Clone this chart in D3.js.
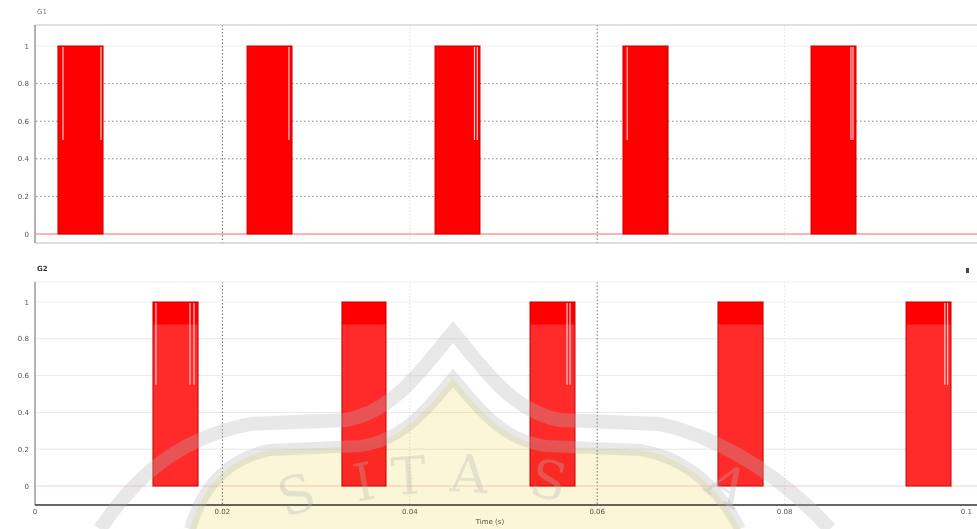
<!DOCTYPE html>
<html lang="en">
<head>
<meta charset="UTF-8">
<title>Gate pulses</title>
<script src="https://d3js.org/d3.v7.min.js"></script>
<style>
	body { margin: 0; background: #fff; }
	text { font-family: "DejaVu Sans", sans-serif; }
</style>
</head>
<body>
<div id="chart"></div>
<script>

	// time axis (s)
	const xTicks = [0, 0.02, 0.04, 0.06, 0.08, 0.1];
	const xTickLabels = ["0", "0.02", "0.04", "0.06", "0.08", "0.1"];
	const yTicks = [0, 0.2, 0.4, 0.6, 0.8, 1];
	const yTickLabels = ["0", "0.2", "0.4", "0.6", "0.8", "1"];

	// pulse windows [start, end] in seconds
	const pulsesTop = [[0.00245, 0.00726], [0.02263, 0.02743], [0.04269, 0.04749], [0.06275, 0.06756], [0.08282, 0.08762]];
	const pulsesBottom = [[0.01259, 0.0174], [0.03276, 0.03746], [0.05283, 0.05763], [0.07289, 0.0777], [0.09296, 0.09776]];

	// narrow off-gaps visible inside the blocks (upper half only)
	const notchesTop = [0.00299, 0.00704, 0.0271, 0.0469, 0.0472, 0.0632, 0.08708, 0.0873];
	const notchesBottom = [0.01291, 0.01654, 0.01697, 0.05678, 0.0571, 0.0971, 0.0974];

	const W = 977, H = 529;

	const svg = d3.select("#chart").append("svg")
		.attr("width", W).attr("height", H);

	svg.append("rect").attr("width", W).attr("height", H).attr("fill", "#fff");

	const defs = svg.append("defs");
	const grad = defs.append("linearGradient").attr("id", "botFill")
		.attr("x1", 0).attr("x2", 0).attr("y1", 0).attr("y2", 1);
	grad.append("stop").attr("offset", "12%").attr("stop-color", "#ff0000");
	grad.append("stop").attr("offset", "12.5%").attr("stop-color", "#ff2a2a");
	grad.append("stop").attr("offset", "100%").attr("stop-color", "#ff2a2a");

	const x = d3.scaleLinear().domain([0, 0.1]).range([35, 972]);

	const panels = [
		{ top: 25, bottom: 243, y: d3.scaleLinear().domain([0, 1]).range([234, 46]),
			pulses: pulsesTop, notches: notchesTop, notchFrom: 0.5, label: "G1",
			fill: "#ff0000", gridH: "dot", zero: "#ff6a6a" },
		{ top: 282, bottom: 505, y: d3.scaleLinear().domain([0, 1]).range([486, 302]),
			pulses: pulsesBottom, notches: notchesBottom, notchFrom: 0.55, label: "G2",
			fill: "url(#botFill)", gridH: "solid", zero: "#f4d0d0" }
	];

	panels.forEach((p, i) => {
		const g = svg.append("g");

		// horizontal grid
		g.selectAll(".hg").data(yTicks.slice(1, 5)).join("line")
			.attr("x1", 36).attr("x2", W)
			.attr("y1", d => p.y(d)).attr("y2", d => p.y(d))
			.attr("stroke", p.gridH === "dot" ? "#8a8a8a" : "#e9e9e9")
			.attr("stroke-dasharray", p.gridH === "dot" ? "1.5,2.5" : null);
		g.append("line").attr("x1", 36).attr("x2", W)
			.attr("y1", p.y(1)).attr("y2", p.y(1)).attr("stroke", "#efefef");

		// vertical grid: 0.02 / 0.06 strong dotted, 0.04 / 0.08 faint
		g.selectAll(".vg").data(xTicks.slice(1, 5)).join("line")
			.attr("x1", d => x(d)).attr("x2", d => x(d))
			.attr("y1", p.top).attr("y2", p.bottom)
			.attr("stroke", (d, j) => j % 2 === 0 ? "#6f6f6f" : "#e2e2e2")
			.attr("stroke-dasharray", "1.5,2");

		// zero level of the signal
		g.append("line").attr("x1", 36).attr("x2", W)
			.attr("y1", p.y(0)).attr("y2", p.y(0))
			.attr("stroke", p.zero).attr("stroke-width", 1);

		// pulse blocks
		g.selectAll(".pulse").data(p.pulses).join("rect")
			.attr("x", d => x(d[0]))
			.attr("width", d => x(d[1]) - x(d[0]))
			.attr("y", p.y(1))
			.attr("height", p.y(0) - p.y(1))
			.attr("fill", p.fill)
			.attr("stroke", "#c80000").attr("stroke-width", 1);

		// notches
		g.selectAll(".notch").data(p.notches).join("line")
			.attr("x1", d => x(d)).attr("x2", d => x(d))
			.attr("y1", p.y(1) + 1).attr("y2", p.y(p.notchFrom))
			.attr("stroke", "#ffd6d6").attr("stroke-width", 1.1);

		// frame
		g.append("line").attr("x1", 35).attr("x2", W).attr("y1", p.top).attr("y2", p.top)
			.attr("stroke", i === 0 ? "#c4c4c4" : "#ececec");
		g.append("line").attr("x1", 35).attr("x2", 35).attr("y1", p.top).attr("y2", p.bottom)
			.attr("stroke", "#666");
		g.append("line").attr("x1", 35).attr("x2", W).attr("y1", p.bottom).attr("y2", p.bottom)
			.attr("stroke", i === 0 ? "#bdbdbd" : "#333").attr("stroke-width", i === 0 ? 1 : 1.5);

		// y tick labels
		g.selectAll(".yl").data(yTicks).join("text")
			.attr("x", 29).attr("y", d => p.y(d) + 2.5)
			.attr("text-anchor", "end")
			.attr("font-size", 7).attr("fill", "#555")
			.text((d, j) => yTickLabels[j]);

		g.append("text").attr("x", 37).attr("y", p.top - 11)
			.attr("font-size", 7).attr("font-weight", i ? "bold" : "normal")
			.attr("fill", i ? "#333" : "#777").text(p.label);
	});

	// small marker at the top right of the lower panel
	svg.append("rect").attr("x", 966).attr("y", 268).attr("width", 3).attr("height", 5).attr("fill", "#444");

	// x tick labels and title
	svg.selectAll(".xl").data(xTicks).join("text")
		.attr("x", d => x(d)).attr("y", 514)
		.attr("text-anchor", (d, j) => j === xTicks.length - 1 ? "end" : "middle")
		.attr("font-size", 7).attr("fill", "#555")
		.text((d, j) => xTickLabels[j]);

	svg.append("text").attr("x", 490).attr("y", 524)
		.attr("text-anchor", "middle").attr("font-size", 7).attr("fill", "#555")
		.text("Time (s)");

	// faint university watermark over the lower half
	const wm = svg.append("g").attr("pointer-events", "none");
	const inner = "M 190 529 C 200 495, 220 460, 270 450 L 360 446 C 405 440, 430 405, 453 378 C 476 405, 501 440, 546 446 L 640 450 C 690 458, 720 490, 740 529";
	wm.append("path").attr("d", inner + " Z")
		.attr("fill", "#f8eeb0").attr("opacity", 0.5)
		.style("mix-blend-mode", "multiply");
	wm.append("path")
		.attr("d", "M 100 529 C 130 485, 170 440, 250 424 L 345 420 C 395 412, 425 365, 453 332 C 481 365, 511 412, 561 420 L 660 424 C 730 440, 790 485, 830 529")
		.attr("fill", "none").attr("stroke", "#b4b4b4").attr("stroke-width", 14).attr("opacity", 0.3);
	wm.append("path").attr("d", inner)
		.attr("fill", "none").attr("stroke", "#b4b4b4").attr("stroke-width", 12).attr("opacity", 0.3);

	const letters = [["S", 302, 512, -18], ["I", 367, 500, -10], ["T", 410, 494, -4], ["A", 468, 492, 3], ["S", 545, 498, 12], ["A", 718, 500, 32]];
	wm.selectAll(".lt").data(letters).join("text")
		.attr("transform", d => `translate(${d[1]},${d[2]}) rotate(${d[3]})`)
		.attr("text-anchor", "middle")
		.style("font-family", "'DejaVu Serif', serif")
		.attr("font-size", 52).attr("fill", "#b4b4b4").attr("opacity", 0.32)
		.text(d => d[0]);

</script>
</body>
</html>
